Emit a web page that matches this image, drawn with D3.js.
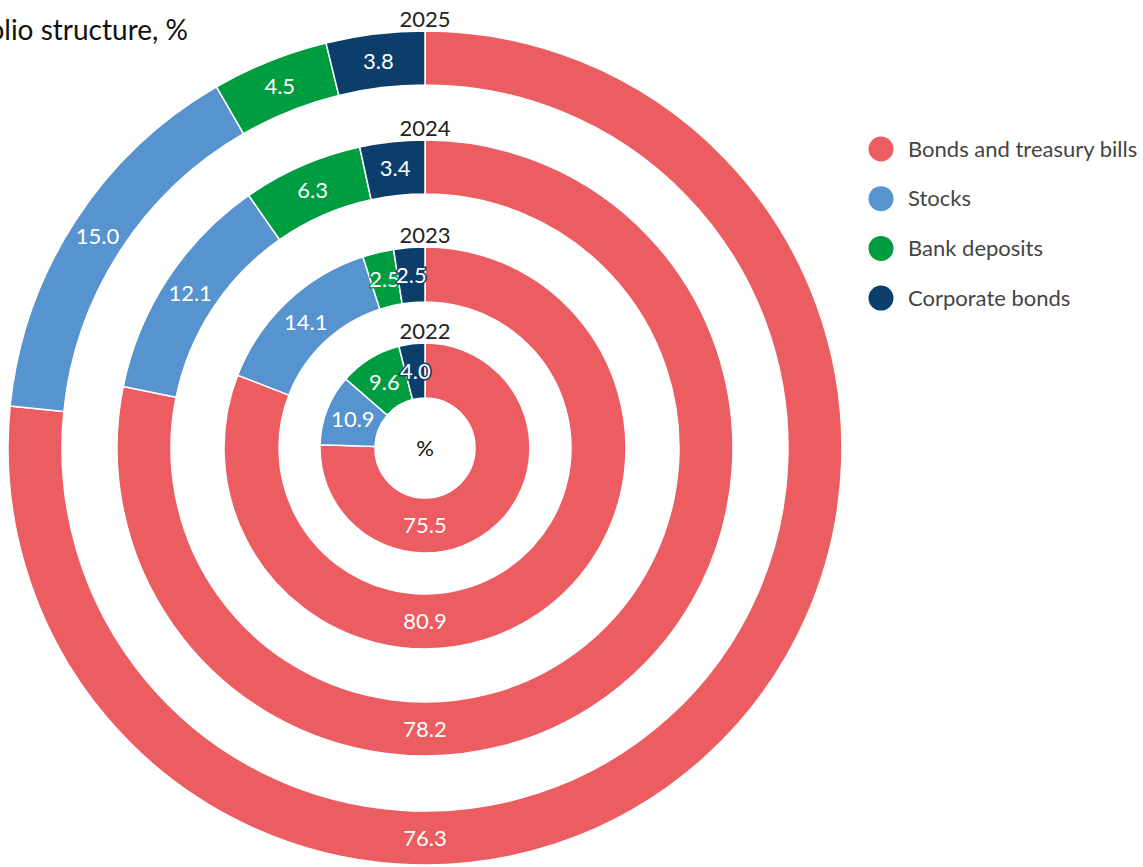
<!DOCTYPE html>
<html>
<head>
<meta charset="utf-8">
<script src="https://cdn.jsdelivr.net/npm/d3@7"></script>
<style>
  html, body { margin: 0; padding: 0; background: #fff; }
  svg { display: block; font-family: Lato, "Open Sans", sans-serif; }
</style>
</head>
<body>
<div class="chart"></div>
<script>
const years = ['2022', '2023', '2024', '2025'];
const categories = ['Bonds and treasury bills', 'Stocks', 'Bank deposits', 'Corporate bonds'];
const bonds = [75.5, 80.9, 78.2, 76.3];
const stocks = [10.9, 14.1, 12.1, 15.0];
const deposits = [9.6, 2.5, 6.3, 4.5];
const corporate = [4.0, 2.5, 3.4, 3.8];
const colors = ['#eb5d60', '#5793cf', '#009c40', '#0c3e6b'];

const width = 1143, height = 867;
const cx = 425, cy = 448;
// inner/outer radius of each year's ring, innermost first
const rings = [[50, 105], [146, 201], [254, 308], [363, 417]];

function yearValues(i) {
  return [bonds[i], stocks[i], deposits[i], corporate[i]].map((v, k) => ({ value: v, cat: k }));
}

// big slices that cover the bottom get their label at the bottom
function labelPos(arc, d, r0, r1) {
  if (d.startAngle < Math.PI && d.endAngle > Math.PI) {
    return [0, (r0 + r1) / 2];
  }
  return arc.centroid(d);
}

function drawChart() {
  let svg = d3.select('.chart').append('svg')
    .attr('width', width)
    .attr('height', height);

  svg.append('text')
    .attr('x', 188)
    .attr('y', 40)
    .attr('text-anchor', 'end')
    .attr('font-size', 28)
    .attr('fill', '#111')
    .text('Investment portfolio structure, %');

  let pie = d3.pie().sort(null).value(d => d.value);
  let g = svg.append('g').attr('transform', `translate(${cx},${cy})`);

  years.forEach((year, i) => {
    let [r0, r1] = rings[i];
    let arc = d3.arc().innerRadius(r0).outerRadius(r1);
    let arcs = pie(yearValues(i));
    let ring = g.append('g');

    ring.selectAll('path')
      .data(arcs)
      .join('path')
      .attr('d', arc)
      .attr('fill', d => colors[d.data.cat])
      .attr('stroke', '#fff')
      .attr('stroke-width', 1.5);

    ring.selectAll('text')
      .data(arcs)
      .join('text')
      .attr('transform', d => `translate(${labelPos(arc, d, r0, r1)})`)
      .attr('text-anchor', 'middle')
      .attr('dy', '0.35em')
      .attr('font-size', 22)
      .attr('fill', '#fff')
      .attr('stroke', d => colors[d.data.cat])
      .attr('stroke-width', 3)
      .attr('paint-order', 'stroke')
      .text(d => d.data.value.toFixed(1));

    g.append('text')
      .attr('x', 0)
      .attr('y', -r1 - 4)
      .attr('text-anchor', 'middle')
      .attr('font-size', 22)
      .attr('fill', '#222')
      .text(year);
  });

  g.append('text')
    .attr('text-anchor', 'middle')
    .attr('dy', '0.35em')
    .attr('font-size', 22)
    .attr('fill', '#111')
    .text('%');

  let legend = svg.append('g').attr('transform', 'translate(881,149)');
  let items = legend.selectAll('g')
    .data(categories)
    .join('g')
    .attr('transform', (d, k) => `translate(0,${k * 49.7})`);
  items.append('circle')
    .attr('r', 12.5)
    .attr('fill', (d, k) => colors[k]);
  items.append('text')
    .attr('x', 27)
    .attr('dy', '0.35em')
    .attr('font-size', 22)
    .attr('fill', '#444')
    .text(d => d);
}

window.onload = drawChart;
</script>
</body>
</html>
